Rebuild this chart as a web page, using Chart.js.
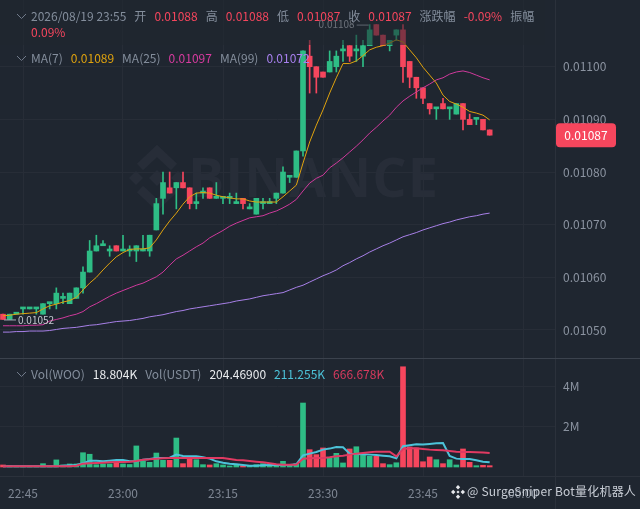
<!DOCTYPE html>
<html>
<head>
<meta charset="utf-8">
<script src="https://cdn.jsdelivr.net/npm/chart.js@4"></script>
<style>
body { margin: 0; background: #1f2630; }
#wrap { position: relative; width: 640px; height: 509px; overflow: hidden; font: 12px/16px "Noto Sans CJK SC", "Noto Sans", sans-serif; color: #848e9c; }
canvas { position: absolute; left: 0; top: 0; }
.dim { position: absolute; left: 0; top: 0; width: 545px; height: 45px; background: rgba(31, 38, 48, 0.55); }
.row { position: absolute; left: 31px; white-space: nowrap; }
.row span { margin-right: 8px; }
.chev { position: absolute; left: 16px; width: 11px; height: 7px; }
.red { color: #f6465d; }
.white { color: #eaecef; }
#mark { position: absolute; left: 451px; top: 483px; font-size: 12px; letter-spacing: 0.2px; color: #c9ced6; white-space: nowrap; }
#mark svg { vertical-align: -3px; margin-right: 2px; }
</style>
</head>
<body>
<div id="wrap">
  <canvas id="chart" width="640" height="509"></canvas>
  <div class="dim"></div>
  <svg class="chev" style="top:13px" viewBox="0 0 11 7"><polyline points="1,1 5.5,5.5 10,1" fill="none" stroke="#707a8a" stroke-width="1"/></svg>
  <div class="row" style="top:8px">
    <span>2026/08/19 23:55</span><span>开</span><span class="red">0.01088</span><span>高</span><span class="red">0.01088</span><span>低</span><span class="red">0.01087</span><span>收</span><span class="red">0.01087</span><span>涨跌幅</span><span class="red">-0.09%</span><span>振幅</span><br><span class="red">0.09%</span>
  </div>
  <svg class="chev" style="top:55px" viewBox="0 0 11 7"><polyline points="1,1 5.5,5.5 10,1" fill="none" stroke="#707a8a" stroke-width="1"/></svg>
  <div class="row" style="top:50px">
    <span>MA(7)</span><span style="color:#e0a30e">0.01089</span><span>MA(25)</span><span style="color:#d93ba0">0.01097</span><span>MA(99)</span><span style="color:#a880f0">0.01072</span>
  </div>
  <svg class="chev" style="top:371px" viewBox="0 0 11 7"><polyline points="1,1 5.5,5.5 10,1" fill="none" stroke="#707a8a" stroke-width="1"/></svg>
  <div class="row" style="top:366px">
    <span>Vol(WOO)</span><span class="white">18.804K</span><span>Vol(USDT)</span><span class="white">204.46900</span><span style="color:#4cc3d9">211.255K</span><span style="color:#d83a5e">666.678K</span>
  </div>
  <div id="mark"><svg width="14" height="14" viewBox="0 0 14 14" fill="#e6e8ec"><path d="M7 0l2.2 2.2L7 4.4 4.8 2.2zM2.2 4.8L4.4 7 2.2 9.2 0 7zM11.8 4.8L14 7l-2.2 2.2L9.6 7zM7 9.6l2.2 2.2L7 14l-2.2-2.2zM7 5.4L8.6 7 7 8.6 5.4 7z"/></svg>@ SurgeSniper Bot量化机器人</div>
</div>
<script>
// Candles, one per minute from 22:42 to 23:55
const opens = [0.01053,0.01052,0.01053,0.01054,0.01054,0.01054,0.01053,0.01055,0.01055,0.01056,0.01055,0.01056,0.01058,0.01061,0.01065,0.01066,0.01065,0.01066,0.01065,0.01065,0.01065,0.01065,0.01065,0.01069,0.01075,0.01077,0.01077,0.01078,0.01077,0.01074,0.01076,0.01077,0.01075,0.01075,0.01075,0.01074,0.01075,0.01073,0.01072,0.01074,0.01074,0.01075,0.01076,0.01079,0.01079,0.01084,0.01102,0.01100,0.01099,0.01099,0.01100,0.01103,0.01104,0.01103,0.01102,0.01104,0.01108,0.01106,0.01104,0.01106,0.01107,0.01101,0.01098,0.01096,0.01093,0.01092,0.01093,0.01092,0.01091,0.01093,0.01090,0.01090,0.01090,0.01088];
const highs = [0.01053,0.01053,0.01053,0.01054,0.01054,0.01054,0.01055,0.01055,0.01058,0.01057,0.01057,0.01058,0.01062,0.01067,0.01068,0.01067,0.01066,0.01066,0.01068,0.01066,0.01066,0.01068,0.01068,0.01075,0.01080,0.01080,0.01078,0.01080,0.01077,0.01076,0.01077,0.01077,0.01078,0.01075,0.01076,0.01076,0.01075,0.01074,0.01075,0.01075,0.01075,0.01076,0.01081,0.01079,0.01084,0.01103,0.01105,0.01100,0.01099,0.01103,0.01103,0.01105,0.01104,0.01106,0.01105,0.01108,0.01108,0.01106,0.01105,0.01107,0.01108,0.01101,0.01098,0.01096,0.01093,0.01092,0.01094,0.01092,0.01093,0.01093,0.01091,0.01090,0.01090,0.01088];
const lows = [0.01052,0.01052,0.01053,0.01053,0.01054,0.01053,0.01053,0.01054,0.01054,0.01055,0.01055,0.01056,0.01057,0.01061,0.01065,0.01066,0.01064,0.01065,0.01065,0.01064,0.01063,0.01065,0.01064,0.01069,0.01072,0.01076,0.01073,0.01077,0.01073,0.01073,0.01075,0.01075,0.01075,0.01074,0.01074,0.01074,0.01073,0.01073,0.01072,0.01073,0.01074,0.01074,0.01076,0.01078,0.01079,0.01083,0.01095,0.01095,0.01098,0.01099,0.01099,0.01101,0.01101,0.01101,0.01100,0.01104,0.01106,0.01104,0.01103,0.01105,0.01097,0.01096,0.01094,0.01093,0.01091,0.01090,0.01092,0.01090,0.01091,0.01088,0.01089,0.01089,0.01088,0.01087];
const closes = [0.01052,0.01053,0.01053,0.01054,0.01054,0.01054,0.01055,0.01055,0.01057,0.01056,0.01057,0.01058,0.01061,0.01065,0.01066,0.01066,0.01065,0.01065,0.01065,0.01065,0.01066,0.01065,0.01068,0.01074,0.01078,0.01076,0.01078,0.01077,0.01074,0.01074,0.01076,0.01075,0.01075,0.01075,0.01075,0.01074,0.01074,0.01073,0.01075,0.01074,0.01074,0.01076,0.01080,0.01079,0.01084,0.01103,0.01100,0.01098,0.01098,0.01101,0.01102,0.01103,0.01102,0.01103,0.01104,0.01107,0.01106,0.01104,0.01105,0.01107,0.01100,0.01098,0.01096,0.01094,0.01092,0.01092,0.01092,0.01092,0.01093,0.01090,0.01089,0.01090,0.01088,0.01087];

// Moving averages
const ma7 = [0.010527,0.010528,0.010530,0.010531,0.010532,0.010533,0.010540,0.010546,0.010549,0.010553,0.010556,0.010562,0.010576,0.010589,0.010600,0.010614,0.010627,0.010639,0.010647,0.010653,0.010654,0.010654,0.010656,0.010671,0.010690,0.010707,0.010722,0.010739,0.010753,0.010760,0.010761,0.010760,0.010756,0.010753,0.010751,0.010749,0.010749,0.010745,0.010743,0.010743,0.010743,0.010743,0.010753,0.010764,0.010775,0.010817,0.010857,0.010889,0.010918,0.010950,0.010979,0.011006,0.011006,0.011011,0.011021,0.011032,0.011037,0.011040,0.011045,0.011051,0.011047,0.011032,0.011017,0.010999,0.010984,0.010969,0.010946,0.010934,0.010929,0.010923,0.010915,0.010912,0.010908,0.010899];
const ma25 = [0.010508,0.010508,0.010508,0.010508,0.010509,0.010509,0.010510,0.010517,0.010520,0.010523,0.010527,0.010530,0.010535,0.010544,0.010550,0.010557,0.010564,0.010570,0.010575,0.010580,0.010585,0.010589,0.010595,0.010601,0.010610,0.010623,0.010635,0.010642,0.010650,0.010658,0.010665,0.010675,0.010682,0.010689,0.010697,0.010703,0.010708,0.010713,0.010715,0.010717,0.010722,0.010726,0.010732,0.010739,0.010748,0.010764,0.010779,0.010788,0.010794,0.010808,0.010817,0.010827,0.010838,0.010849,0.010861,0.010874,0.010885,0.010897,0.010908,0.010923,0.010935,0.010944,0.010952,0.010960,0.010967,0.010975,0.010979,0.010986,0.010990,0.010992,0.010989,0.010984,0.010979,0.010975];
const ma99 = [0.010496,0.010496,0.010497,0.010497,0.010498,0.010498,0.010498,0.010499,0.010501,0.010503,0.010504,0.010505,0.010507,0.010509,0.010510,0.010512,0.010514,0.010516,0.010517,0.010518,0.010520,0.010522,0.010525,0.010527,0.010529,0.010532,0.010535,0.010537,0.010540,0.010542,0.010544,0.010546,0.010548,0.010550,0.010552,0.010555,0.010557,0.010559,0.010562,0.010565,0.010567,0.010569,0.010571,0.010576,0.010581,0.010585,0.010591,0.010597,0.010603,0.010608,0.010614,0.010622,0.010628,0.010635,0.010641,0.010648,0.010654,0.010660,0.010665,0.010671,0.010677,0.010681,0.010685,0.010690,0.010694,0.010698,0.010702,0.010705,0.010709,0.010712,0.010715,0.010717,0.010720,0.010722];

// Volume in thousands
const volumes = [100,75,50,50,50,50,165,50,350,100,150,150,705,630,115,150,150,250,150,125,1040,280,230,690,330,330,1430,165,395,360,115,100,165,100,50,100,65,65,115,165,65,115,280,100,165,3160,855,610,940,445,675,200,890,1000,640,530,530,165,115,210,4950,990,940,260,495,360,165,360,100,890,230,65,85,65];
const volMa7 = [33,33,33,33,33,33,33,35,40,66,83,99,182,314,314,281,314,347,347,281,281,363,396,446,446,462,611,545,528,528,479,413,281,215,165,132,99,66,66,83,99,99,99,99,132,578,660,743,858,908,990,974,660,644,627,611,594,561,528,429,1023,1073,1122,1106,1139,1172,1188,545,413,396,396,330,264,231];
const volMa25 = [33,33,33,33,33,33,33,33,33,33,33,66,165,182,198,215,231,248,248,264,297,363,380,413,429,446,446,446,446,446,446,446,446,446,396,347,330,297,264,231,182,132,116,116,116,413,429,446,446,479,528,561,611,660,693,726,759,759,759,528,891,924,924,891,858,842,825,792,759,743,743,726,710,693];

// Axis ticks
const priceTicks = [0.0105, 0.0106, 0.0107, 0.0108, 0.0109, 0.011];
const volTicks = [2000, 4000];
const timeTickIdx = [3, 18, 33, 48, 63, 78];
const timeLabels = ["22:45", "23:00", "23:15", "23:30", "23:45", "00:00"];

const UP = "#2ebd85";
const DOWN = "#f6465d";
const GRID = "#272d37";
const FONT = '"Noto Sans CJK SC", "Noto Sans", sans-serif';

const candleColors = closes.map((c, i) => (c >= opens[i] ? UP : DOWN));

function diamond(ctx, x, y, r) {
    ctx.beginPath();
    ctx.moveTo(x, y - r);
    ctx.lineTo(x + r, y);
    ctx.lineTo(x, y + r);
    ctx.lineTo(x - r, y);
    ctx.closePath();
    ctx.fill();
}

// Tick label padding would otherwise shrink the panes
function fixBox(scale, width, height) {
    if (width) scale.width = width;
    if (height) scale.height = height;
    scale.paddingTop = 0;
    scale.paddingBottom = 0;
    scale.paddingLeft = 0;
    scale.paddingRight = 0;
}

// Background logo behind the candles
const backdrop = {
    id: "backdrop",
    beforeDatasetsDraw(chart) {
        const ctx = chart.ctx;
        ctx.save();
        ctx.fillStyle = "#272d38";
        const cx = 157, cy = 178;
        diamond(ctx, cx, cy, 8);
        diamond(ctx, cx - 21, cy, 7);
        diamond(ctx, cx + 21, cy, 7);
        ctx.lineWidth = 9;
        ctx.strokeStyle = "#272d38";
        ctx.beginPath();
        ctx.moveTo(cx - 17, cy - 11);
        ctx.lineTo(cx, cy - 27);
        ctx.lineTo(cx + 17, cy - 11);
        ctx.moveTo(cx - 17, cy + 11);
        ctx.lineTo(cx, cy + 27);
        ctx.lineTo(cx + 17, cy + 11);
        ctx.stroke();
        ctx.font = "bold 54px " + '"Open Sans", sans-serif';
        ctx.letterSpacing = "1px";
        ctx.textBaseline = "alphabetic";
        ctx.fillText("BINANCE", 188, 197);
        ctx.restore();
    }
};

// Pane borders, high/low notes and the last price tag
const paneExtras = {
    id: "paneExtras",
    afterDraw(chart) {
        const ctx = chart.ctx;
        const py = chart.scales.y;
        const px = chart.scales.x;
        ctx.save();
        ctx.strokeStyle = "#2b313b";
        ctx.lineWidth = 1;
        ctx.beginPath();
        ctx.moveTo(555.5, 0);
        ctx.lineTo(555.5, 509);
        ctx.moveTo(0, 476.5);
        ctx.lineTo(640, 476.5);
        ctx.stroke();
        ctx.strokeStyle = "#3b424d";
        ctx.beginPath();
        ctx.moveTo(0, 358.5);
        ctx.lineTo(640, 358.5);
        ctx.stroke();

        // highest and lowest price notes
        const hi = Math.max(...highs), lo = Math.min(...lows);
        const hiX = px.getPixelForValue(highs.indexOf(hi));
        const hiY = py.getPixelForValue(hi);
        const loX = px.getPixelForValue(lows.indexOf(lo));
        const loY = py.getPixelForValue(lo);
        ctx.font = "10px " + FONT;
        ctx.textBaseline = "middle";
        ctx.strokeStyle = "#aab0ba";
        ctx.fillStyle = "#c4c8d0";
        ctx.beginPath();
        ctx.moveTo(hiX - 1, hiY + 0.5);
        ctx.lineTo(hiX - 13, hiY + 0.5);
        ctx.moveTo(loX + 1, loY + 0.5);
        ctx.lineTo(loX + 13, loY + 0.5);
        ctx.stroke();
        ctx.textAlign = "right";
        ctx.fillText(hi.toFixed(5), hiX - 15, hiY);
        ctx.textAlign = "left";
        ctx.fillText(lo.toFixed(5), loX + 15, loY + 1);

        // last price tag
        const last = closes[closes.length - 1];
        const tagY = py.getPixelForValue(last);
        ctx.fillStyle = DOWN;
        ctx.beginPath();
        ctx.roundRect(556, tagY - 12, 60, 24, 4);
        ctx.fill();
        ctx.fillStyle = "#ffffff";
        ctx.font = "12px " + FONT;
        ctx.textAlign = "center";
        ctx.fillText(last.toFixed(5), 586, tagY + 0.5);
        ctx.restore();
    }
};

function lineSet(values, color, width, axis) {
    return {
        type: "line",
        data: values.map((v, i) => ({ x: i, y: v })),
        borderColor: color,
        borderWidth: width,
        pointRadius: 0,
        tension: 0,
        yAxisID: axis,
        order: 0
    };
}

function drawChart() {
    const ctx = document.getElementById("chart").getContext("2d");
    new Chart(ctx, {
        type: "bar",
        plugins: [backdrop, paneExtras],
        data: {
            datasets: [
                lineSet(ma7, "#e0a30e", 1, "y"),
                lineSet(ma25, "#cf3a9c", 1, "y"),
                lineSet(ma99, "#a880e8", 1, "y"),
                lineSet(volMa25, "#e03a62", 2, "yVol"),
                lineSet(volMa7, "#4cc3d9", 2, "yVol"),
                {
                    data: opens.map((o, i) => ({ x: i, y: [o, closes[i]] })),
                    backgroundColor: candleColors,
                    barThickness: 5,
                    minBarLength: 2,
                    grouped: false,
                    yAxisID: "y",
                    order: 1
                },
                {
                    data: highs.map((h, i) => ({ x: i, y: [lows[i], h] })),
                    backgroundColor: candleColors,
                    barThickness: 1,
                    grouped: false,
                    yAxisID: "y",
                    order: 2
                },
                {
                    data: volumes.map((v, i) => ({ x: i, y: v })),
                    backgroundColor: candleColors,
                    barThickness: 5,
                    grouped: false,
                    yAxisID: "yVol",
                    order: 3
                }
            ]
        },
        options: {
            responsive: false,
            animation: false,
            events: [],
            layout: { padding: 0 },
            plugins: { legend: { display: false }, tooltip: { enabled: false } },
            scales: {
                x: {
                    type: "linear",
                    min: -0.45,
                    max: 82.8,
                    offset: false,
                    grid: { color: GRID, offset: false, drawTicks: false },
                    border: { display: false },
                    afterBuildTicks(scale) {
                        scale.ticks = timeTickIdx.map(v => ({ value: v }));
                    },
                    afterFit(scale) {
                        fixBox(scale, 0, 32);
                    },
                    ticks: {
                        autoSkip: false,
                        maxRotation: 0,
                        padding: 9,
                        color: "#7f8794",
                        font: { size: 12, family: FONT },
                        callback: v => timeLabels[timeTickIdx.indexOf(v)]
                    }
                },
                y: {
                    position: "right",
                    stack: "panes",
                    stackWeight: 358,
                    min: 0.0104468,
                    max: 0.0111267,
                    grid: { color: GRID, drawTicks: false },
                    border: { display: false },
                    afterBuildTicks(scale) {
                        scale.ticks = priceTicks.map(v => ({ value: v }));
                    },
                    afterFit(scale) {
                        fixBox(scale, 85, 0);
                    },
                    ticks: {
                        padding: 8,
                        color: "#8b93a0",
                        font: { size: 12, family: FONT },
                        callback: v => v.toFixed(5)
                    }
                },
                yVol: {
                    position: "right",
                    stack: "panes",
                    stackWeight: 119,
                    min: -494,
                    max: 5383,
                    grid: { color: GRID, drawTicks: false },
                    border: { display: false },
                    afterBuildTicks(scale) {
                        scale.ticks = volTicks.map(v => ({ value: v }));
                    },
                    afterFit(scale) {
                        fixBox(scale, 85, 0);
                    },
                    ticks: {
                        padding: 8,
                        color: "#8b93a0",
                        font: { size: 12, family: FONT },
                        callback: v => v / 1000 + "M"
                    }
                }
            }
        }
    });
}

window.onload = drawChart;
</script>
</body>
</html>
